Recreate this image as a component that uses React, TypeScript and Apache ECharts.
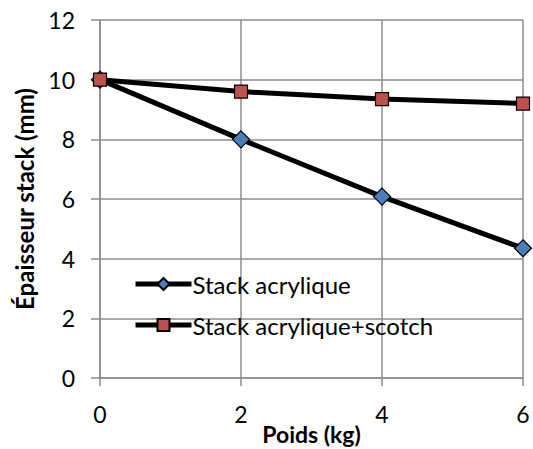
import React, { useEffect, useRef } from "react";
import * as echarts from "echarts";

const poids = [0, 2, 4, 6];
const acrylique = [10, 8, 6.08, 4.35];
const acryliqueScotch = [10, 9.6, 9.35, 9.2];
const seriesNames = ["Stack acrylique", "Stack acrylique+scotch"];

export default function App() {
  const ref = useRef<HTMLDivElement>(null);
  useEffect(() => {
    const chart = echarts.init(ref.current!, null, { renderer: "svg" });
    const font = "Lato, 'Open Sans', sans-serif";
    const gridColor = "#8c8c8c";
    chart.setOption({
      animation: false,
      backgroundColor: "#ffffff",
      grid: { left: 100, right: 10, top: 20, bottom: 71, outerBoundsMode: "none", containLabel: false },
      xAxis: {
        type: "value",
        min: 0,
        max: 6,
        interval: 2,
        name: "Poids (kg)",
        nameLocation: "middle",
        nameGap: 44,
        nameMoveOverlap: false,
        nameTextStyle: { color: "#000", fontSize: 23, fontWeight: "bold", fontFamily: font },
        axisLine: { show: true, lineStyle: { color: gridColor, width: 1.5 } },
        axisTick: { show: true, length: 8, lineStyle: { color: gridColor, width: 1.5 } },
        axisLabel: { color: "#000", fontSize: 23, fontFamily: font, margin: 24 },
        splitLine: { show: true, lineStyle: { color: gridColor, width: 1.5 } },
      },
      yAxis: {
        type: "value",
        min: 0,
        max: 12,
        interval: 2,
        name: "Épaisseur stack (mm)",
        nameLocation: "middle",
        nameGap: 64,
        nameMoveOverlap: false,
        nameTextStyle: { color: "#000", fontSize: 24, fontWeight: "bold", fontFamily: font },
        axisLine: { show: true, lineStyle: { color: gridColor, width: 1.5 } },
        axisTick: { show: true, length: 9, lineStyle: { color: gridColor, width: 1.5 } },
        axisLabel: { color: "#000", fontSize: 23, fontFamily: font, margin: 25 },
        splitLine: { show: true, lineStyle: { color: gridColor, width: 1.5 } },
      },
      legend: {
        show: true,
        orient: "vertical",
        left: 133,
        top: 272,
        itemGap: 17,
        itemWidth: 56,
        itemHeight: 15,
        padding: 0,
        lineStyle: { width: 5, color: "#000" },
        textStyle: { color: "#000", fontSize: 24, fontFamily: font, padding: [0, 0, 0, -4] },
        data: seriesNames,
      },
      series: [
        {
          name: seriesNames[0],
          type: "line",
          data: poids.map((x, i) => [x, acrylique[i]]),
          symbol: "diamond",
          symbolSize: 17,
          lineStyle: { color: "#000", width: 5 },
          itemStyle: { color: "#4a7ebb", borderColor: "#000", borderWidth: 1.2 },
          z: 3,
        },
        {
          name: seriesNames[1],
          type: "line",
          data: poids.map((x, i) => [x, acryliqueScotch[i]]),
          symbol: "rect",
          symbolSize: 13,
          lineStyle: { color: "#000", width: 5 },
          itemStyle: { color: "#c0504d", borderColor: "#000", borderWidth: 1.2 },
          z: 4,
        },
      ],
    });
    return () => chart.dispose();
  }, []);
  return <div ref={ref} style={{ width: 533, height: 449, position: "absolute", left: 0, top: 0 }} />;
}
